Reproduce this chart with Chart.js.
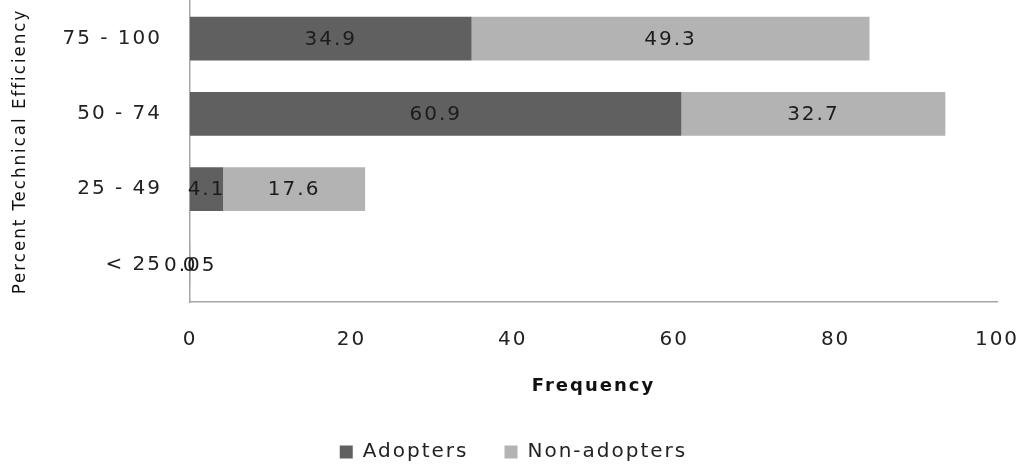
<!DOCTYPE html>
<html>
<head>
<meta charset="utf-8">
<script src="https://cdn.jsdelivr.net/npm/chart.js@4/dist/chart.umd.min.js"></script>
<style>
  html, body { margin: 0; padding: 0; background: #ffffff; }
  #wrap { width: 1027px; height: 464px; }
</style>
</head>
<body>
<div id="wrap"><canvas id="chart" width="1027" height="464"></canvas></div>
<script>
// Efficiency classes, listed from top to bottom
const categories = ['75 - 100', '50 - 74', '25 - 49', '< 25'];
const seriesNames = ['Adopters', 'Non-adopters'];
const adopters = [34.9, 60.9, 4.1, 0];
const nonAdopters = [49.3, 32.7, 17.6, 0.05];
const xTicks = [0, 20, 40, 60, 80, 100];

const SPACING = '2px';
const textFont = '"DejaVu Sans", Verdana, sans-serif';

// Wider letter spacing for all canvas text
const spacingPlugin = {
  id: 'spacing',
  beforeUpdate(chart) { chart.ctx.letterSpacing = SPACING; },
  beforeLayout(chart) { chart.ctx.letterSpacing = SPACING; },
  beforeDraw(chart) { chart.ctx.letterSpacing = SPACING; }
};

// Value labels centred in each bar segment
const valueLabels = {
  id: 'valueLabels',
  afterDatasetsDraw(chart) {
    const ctx = chart.ctx;
    ctx.save();
    ctx.letterSpacing = SPACING;
    ctx.font = '20px ' + textFont;
    ctx.fillStyle = '#1c1c1c';
    ctx.textAlign = 'center';
    ctx.textBaseline = 'middle';
    chart.data.datasets.forEach((ds, di) => {
      const meta = chart.getDatasetMeta(di);
      meta.data.forEach((bar, i) => {
        const cx = (bar.x + bar.base) / 2;
        ctx.fillText(String(ds.data[i]), cx, bar.y + 1);
      });
    });
    ctx.restore();
  }
};

// Legend row below the axis title
const bottomLegend = {
  id: 'bottomLegend',
  afterDraw(chart) {
    const ctx = chart.ctx;
    ctx.save();
    ctx.letterSpacing = SPACING;
    ctx.font = '20px ' + textFont;
    ctx.textBaseline = 'middle';
    ctx.textAlign = 'left';
    const box = 13, gapBoxText = 10, gapItems = 36;
    const items = chart.data.datasets.map(ds => ({
      label: ds.label, color: ds.backgroundColor, w: ctx.measureText(ds.label).width
    }));
    let total = 0;
    items.forEach((it, i) => { total += box + gapBoxText + it.w + (i ? gapItems : 0); });
    let x = chart.width / 2 - total / 2;
    const y = 452;
    items.forEach(it => {
      ctx.fillStyle = it.color;
      ctx.fillRect(x, y - box / 2, box, box);
      x += box + gapBoxText;
      ctx.fillStyle = '#222222';
      ctx.fillText(it.label, x, y);
      x += it.w + gapItems;
    });
    ctx.restore();
  }
};

new Chart(document.getElementById('chart'), {
  type: 'bar',
  data: {
    labels: categories,
    datasets: [
      { label: seriesNames[0], data: adopters, backgroundColor: '#606060',
        categoryPercentage: 1, barPercentage: 0.58 },
      { label: seriesNames[1], data: nonAdopters, backgroundColor: '#b3b3b3',
        categoryPercentage: 1, barPercentage: 0.58 }
    ]
  },
  options: {
    indexAxis: 'y',
    responsive: false,
    animation: false,
    layout: { padding: { left: 0, right: 30, top: 1, bottom: 67 } },
    plugins: {
      legend: { display: false },
      tooltip: { enabled: false }
    },
    scales: {
      x: {
        stacked: true,
        min: 0,
        max: 100,
        afterBuildTicks(scale) { scale.ticks = xTicks.map(v => ({ value: v })); },
        afterFit(scale) {
          scale.height = 95;
          scale.paddingLeft = 0; scale.paddingRight = 0;
          scale.paddingTop = 0; scale.paddingBottom = 0;
        },
        grid: { display: false, drawTicks: false },
        border: { display: true, color: '#a6a6a6', width: 1.5 },
        ticks: { padding: 26, color: '#222222', font: { family: textFont, size: 20 }, maxRotation: 0 },
        title: {
          display: true, text: 'Frequency', color: '#111111',
          font: { family: textFont, size: 18, weight: 'bold' },
          padding: { top: 0, bottom: 0 }
        }
      },
      y: {
        stacked: true,
        afterFit(scale) {
          scale.width = 190;
          scale.paddingLeft = 0; scale.paddingRight = 0;
          scale.paddingTop = 0; scale.paddingBottom = 0;
        },
        grid: { display: false, drawTicks: false },
        border: { display: true, color: '#a6a6a6', width: 1.5 },
        ticks: { padding: 28, color: '#222222', font: { family: textFont, size: 20 } },
        title: {
          display: true, text: 'Percent Technical Efficiency', color: '#111111',
          font: { family: '"Liberation Sans Narrow", "DejaVu Sans Condensed", sans-serif', size: 18.5 },
          padding: { top: 9, bottom: 0 }
        }
      }
    }
  },
  plugins: [spacingPlugin, valueLabels, bottomLegend]
});
</script>
</body>
</html>
